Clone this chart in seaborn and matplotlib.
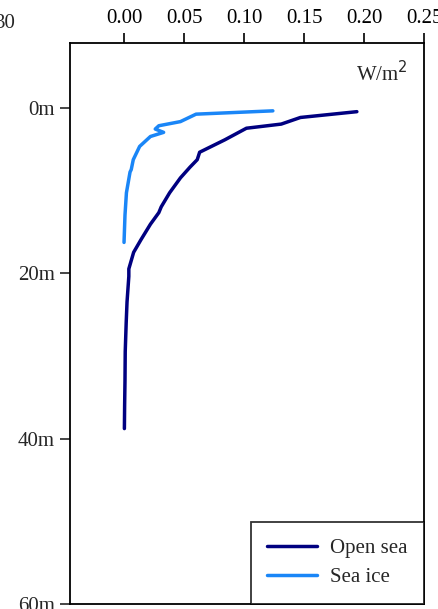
import numpy as np
import pandas as pd
import matplotlib.pyplot as plt
import seaborn as sns

sns.set_style("white")
plt.rcParams['font.family'] = ['Liberation Serif', 'DejaVu Serif']

# Irradiance profiles (W/m2) versus depth (m)
open_depth = [0.5, 1.2, 2.0, 2.5, 3.9, 5.4, 6.3, 7.2, 8.5, 10.3, 12.0, 12.7, 14.1, 16.0, 17.5,
              19.5, 20.4, 23.5, 26.0, 29.5, 33.0, 36.0, 38.8]
open_flux = [0.194, 0.147, 0.131, 0.102, 0.084, 0.063, 0.061, 0.055, 0.047, 0.038, 0.031, 0.029,
             0.022, 0.014, 0.008, 0.004, 0.004, 0.0025, 0.0018, 0.001, 0.0008, 0.0005, 0.0003]
ice_depth = [0.4, 0.8, 1.7, 2.2, 2.6, 3.0, 3.5, 4.7, 6.3, 7.5, 7.8, 10.3, 13.0, 16.3]
ice_flux = [0.124, 0.060, 0.047, 0.029, 0.026, 0.033, 0.022, 0.013, 0.0077, 0.006, 0.005,
            0.002, 0.0008, 0.0]

x_ticks = [0.00, 0.05, 0.10, 0.15, 0.20, 0.25]
y_ticks = [0, 20, 40, 60]
y_labels = ['0m', '20m', '40m', '60m']

df = pd.concat([
    pd.DataFrame({'flux': open_flux, 'depth': open_depth, 'series': 'Open sea'}),
    pd.DataFrame({'flux': ice_flux, 'depth': ice_depth, 'series': 'Sea ice'}),
])

fig = plt.figure(figsize=(4.39, 6.09), dpi=100)
ax = fig.add_axes([0.1595, 0.0082, 0.8065, 0.9212])

sns.lineplot(data=df, x='flux', y='depth', hue='series', sort=False, estimator=None,
             palette={'Open sea': '#000080', 'Sea ice': '#1A86F7'}, linewidth=2.5, ax=ax)

ax.set_xlim(-0.045, 0.25)
ax.set_ylim(60, -7.8)
ax.xaxis.tick_top()
ax.set_xticks(x_ticks)
ax.set_xticklabels([f'{v:.2f}' for v in x_ticks])
ax.set_yticks(y_ticks)
ax.set_yticklabels(y_labels)
ax.tick_params(axis='x', top=True, bottom=False, direction='out', length=7, width=1.2,
               labelsize=15, pad=4, colors='black')
ax.tick_params(axis='y', left=True, direction='out', length=7, width=1.2, labelsize=15, pad=4)
ax.set_xlabel('')
ax.set_ylabel('')
for s in ax.spines.values():
    s.set_color('black')
    s.set_linewidth(1.3)

ax.text(0.955, 0.945, 'W/m$^2$', transform=ax.transAxes, ha='right', va='center', fontsize=15)
fig.text(-0.012, 0.962, '30', ha='left', va='center', fontsize=15)

leg = ax.legend(loc='lower right', fontsize=15, frameon=True, fancybox=False, borderaxespad=0,
                handlelength=2.4, handletextpad=0.6, borderpad=0.8, labelspacing=0.45)
leg.get_frame().set_edgecolor('black')
leg.get_frame().set_linewidth(1.3)
for line in leg.get_lines():
    line.set_linewidth(2.5)

fig.savefig('out.png', dpi=100)
